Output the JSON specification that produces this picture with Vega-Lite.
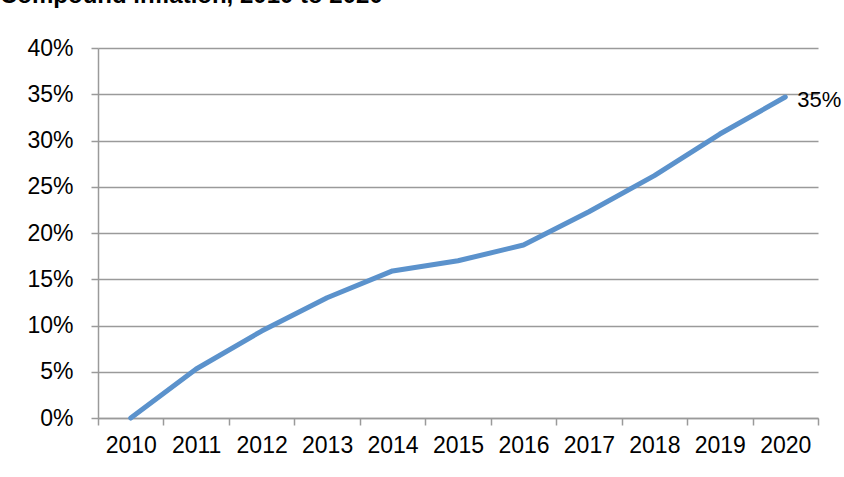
{
  "$schema": "https://vega.github.io/schema/vega-lite/v6.json",
  "autosize": "none",
  "width": 720,
  "height": 370,
  "padding": {"left": 98, "top": 48, "right": 26, "bottom": 59},
  "background": "white",
  "title": {
    "text": "Compound inflation, 2010 to 2020",
    "anchor": "start",
    "frame": "group",
    "orient": "top",
    "dx": -98,
    "offset": 0,
    "dy": -10,
    "baseline": "alphabetic",
    "font": "Liberation Sans",
    "fontSize": 24,
    "fontWeight": "bold",
    "color": "black"
  },
  "config": {
    "view": {"stroke": null},
    "axis": {
      "labelFont": "Liberation Sans",
      "labelFontSize": 23,
      "labelColor": "black",
      "domainColor": "#9a9a9a",
      "domainWidth": 1.5,
      "tickColor": "#9a9a9a",
      "tickWidth": 1.5,
      "tickSize": 7,
      "gridColor": "#9a9a9a",
      "gridWidth": 1.5,
      "title": null
    }
  },
  "data": {
    "values": [
      {"year": "2010", "inflation": 0.0},
      {"year": "2011", "inflation": 0.053},
      {"year": "2012", "inflation": 0.094},
      {"year": "2013", "inflation": 0.130},
      {"year": "2014", "inflation": 0.159},
      {"year": "2015", "inflation": 0.170},
      {"year": "2016", "inflation": 0.187},
      {"year": "2017", "inflation": 0.223},
      {"year": "2018", "inflation": 0.262},
      {"year": "2019", "inflation": 0.307},
      {"year": "2020", "inflation": 0.347}
    ]
  },
  "encoding": {
    "x": {
      "field": "year",
      "type": "ordinal",
      "scale": {"paddingInner": 0, "paddingOuter": 0},
      "axis": {"labelAngle": 0, "tickBand": "extent", "labelPadding": 9, "grid": false, "labelOverlap": false}
    },
    "y": {
      "field": "inflation",
      "type": "quantitative",
      "scale": {"domain": [0, 0.4], "nice": false},
      "axis": {"format": ".0%", "values": [0, 0.05, 0.1, 0.15, 0.2, 0.25, 0.3, 0.35, 0.4], "labelPadding": 18, "grid": true, "labelOverlap": false}
    }
  },
  "layer": [
    {
      "mark": {"type": "line", "color": "#5b92cc", "strokeWidth": 5, "strokeCap": "round", "strokeJoin": "round"}
    },
    {
      "transform": [{"filter": "datum.year == '2020'"}],
      "mark": {"type": "text", "align": "left", "baseline": "middle", "dx": 12, "dy": 3, "font": "Liberation Sans", "fontSize": 22, "color": "black"},
      "encoding": {"text": {"field": "inflation", "type": "quantitative", "format": ".0%"}}
    }
  ]
}
